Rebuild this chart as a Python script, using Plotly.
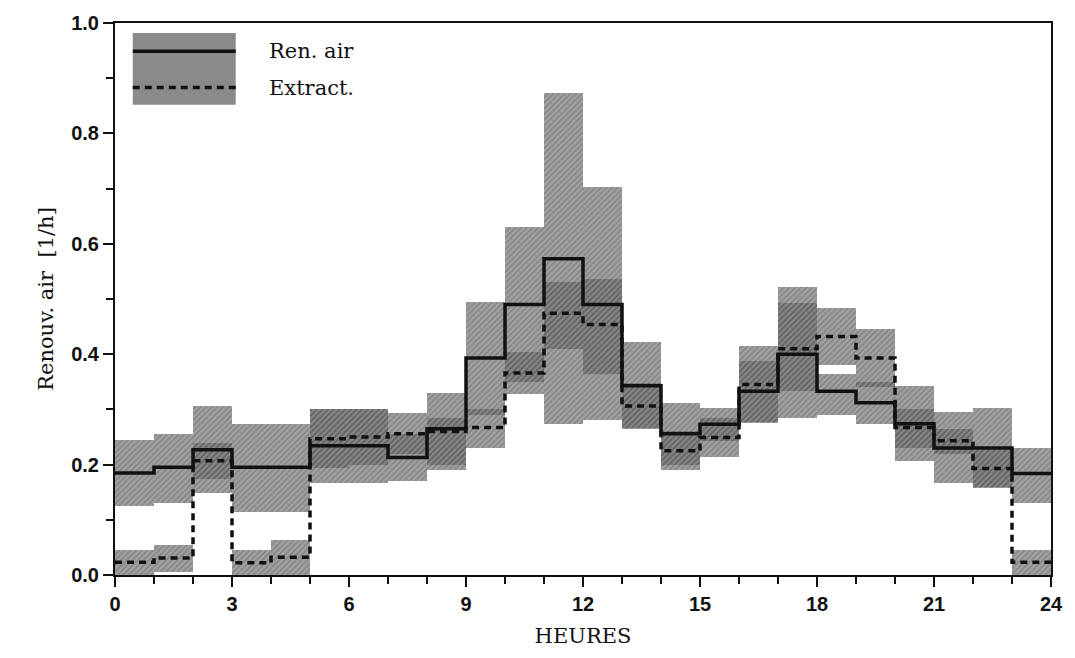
import numpy as np
import plotly.graph_objects as go

# ---- data ----
hours = list(range(24))
ren_air = [0.185, 0.195, 0.227, 0.195, 0.195, 0.234, 0.234, 0.213, 0.265, 0.393, 0.490, 0.573,
           0.490, 0.343, 0.256, 0.273, 0.333, 0.400, 0.333, 0.312, 0.274, 0.230, 0.230, 0.184]
ren_low = [0.125, 0.130, 0.148, 0.114, 0.114, 0.166, 0.166, 0.170, 0.200, 0.290, 0.350, 0.274,
           0.280, 0.267, 0.200, 0.243, 0.278, 0.285, 0.290, 0.274, 0.206, 0.166, 0.157, 0.130]
ren_high = [0.245, 0.256, 0.306, 0.274, 0.274, 0.300, 0.300, 0.256, 0.330, 0.495, 0.630, 0.874,
            0.703, 0.423, 0.312, 0.303, 0.387, 0.522, 0.365, 0.350, 0.342, 0.295, 0.303, 0.230]
extract = [0.023, 0.031, 0.207, 0.022, 0.032, 0.247, 0.250, 0.256, 0.260, 0.267, 0.366, 0.474,
           0.454, 0.306, 0.225, 0.249, 0.345, 0.410, 0.432, 0.393, 0.267, 0.243, 0.193, 0.023]
ext_low = [0.000, 0.006, 0.174, 0.000, 0.000, 0.193, 0.200, 0.220, 0.190, 0.230, 0.328, 0.410,
           0.364, 0.265, 0.190, 0.213, 0.275, 0.333, 0.381, 0.341, 0.230, 0.220, 0.160, 0.000]
ext_high = [0.045, 0.054, 0.240, 0.045, 0.063, 0.300, 0.300, 0.293, 0.285, 0.300, 0.404, 0.530,
            0.537, 0.347, 0.260, 0.285, 0.414, 0.492, 0.483, 0.445, 0.300, 0.265, 0.226, 0.045]
x_ticks = [0, 3, 6, 9, 12, 15, 18, 21, 24]
y_ticks = [0.0, 0.2, 0.4, 0.6, 0.8, 1.0]
labels = ["Ren. air", "Extract."]

h = np.array(hours, dtype=float)
centers = h + 0.5
edges = np.append(h, 24)

fig = go.Figure()

def band(low, high):
    low = np.array(low)
    high = np.array(high)
    return go.Bar(
        x=centers, y=high - low, base=low, width=1.0,
        marker=dict(color="#7a7a7a", line=dict(width=0),
                    pattern=dict(shape="/", fgcolor="#1e1e1e", size=4, solidity=0.35,
                                 fillmode="overlay")),
        opacity=0.70, showlegend=False, hoverinfo="skip")

fig.add_trace(band(ren_low, ren_high))
fig.add_trace(band(ext_low, ext_high))

fig.add_trace(go.Scatter(x=edges, y=ren_air + [ren_air[-1]], mode="lines", line_shape="hv",
                         line=dict(color="#111111", width=3.5), name=labels[0], showlegend=False))
fig.add_trace(go.Scatter(x=edges, y=extract + [extract[-1]], mode="lines", line_shape="hv",
                         line=dict(color="#111111", width=3.5, dash="7px,5px"), name=labels[1],
                         showlegend=False))

# legend drawn manually (paper coordinates)
fig.add_shape(type="rect", xref="paper", yref="paper", x0=0.019, x1=0.129, y0=0.852, y1=0.982,
              fillcolor="#8a8a8a", line=dict(width=0), layer="below")
fig.add_shape(type="line", xref="paper", yref="paper", x0=0.019, x1=0.129, y0=0.949, y1=0.949,
              line=dict(color="#111111", width=3.5))
fig.add_shape(type="line", xref="paper", yref="paper", x0=0.019, x1=0.129, y0=0.883, y1=0.883,
              line=dict(color="#111111", width=3.5, dash="7px,5px"))
for lab, yy in zip(labels, [0.949, 0.883]):
    fig.add_annotation(xref="paper", yref="paper", x=0.162, y=yy, text=lab, showarrow=False,
                       xanchor="left", yanchor="middle",
                       font=dict(family="DejaVu Serif", size=21, color="#111111"))

tick_font = dict(family="Liberation Sans Narrow, Liberation Sans", size=20, color="#111111",
                 weight="bold")
axis_common = dict(showline=True, linecolor="#111111", linewidth=2, mirror=True, showgrid=False,
                   zeroline=False, ticks="outside", ticklen=10, tickwidth=2, tickcolor="#111111",
                   tickfont=tick_font)

fig.update_xaxes(range=[0, 24], tickvals=x_ticks, ticktext=[str(v) for v in x_ticks],
                 minor=dict(dtick=1, ticks="outside", ticklen=7, tickwidth=2, tickcolor="#111111"),
                 title=dict(text="HEURES", font=dict(family="DejaVu Serif", size=21, color="#111111"),
                            standoff=14),
                 **axis_common)
fig.update_yaxes(range=[0, 1.0], tickvals=y_ticks, ticktext=[f"{v:.1f}" for v in y_ticks],
                 minor=dict(dtick=0.1, ticks="outside", ticklen=7, tickwidth=2, tickcolor="#111111"),
                 title=dict(text="Renouv. air  [1/h]",
                            font=dict(family="DejaVu Serif", size=21, color="#111111"), standoff=12),
                 **axis_common)

fig.update_layout(width=1075, height=658, barmode="overlay", bargap=0,
                  margin=dict(l=115, r=17, t=20, b=83),
                  plot_bgcolor="white", paper_bgcolor="white")

fig.write_html("out.html")
